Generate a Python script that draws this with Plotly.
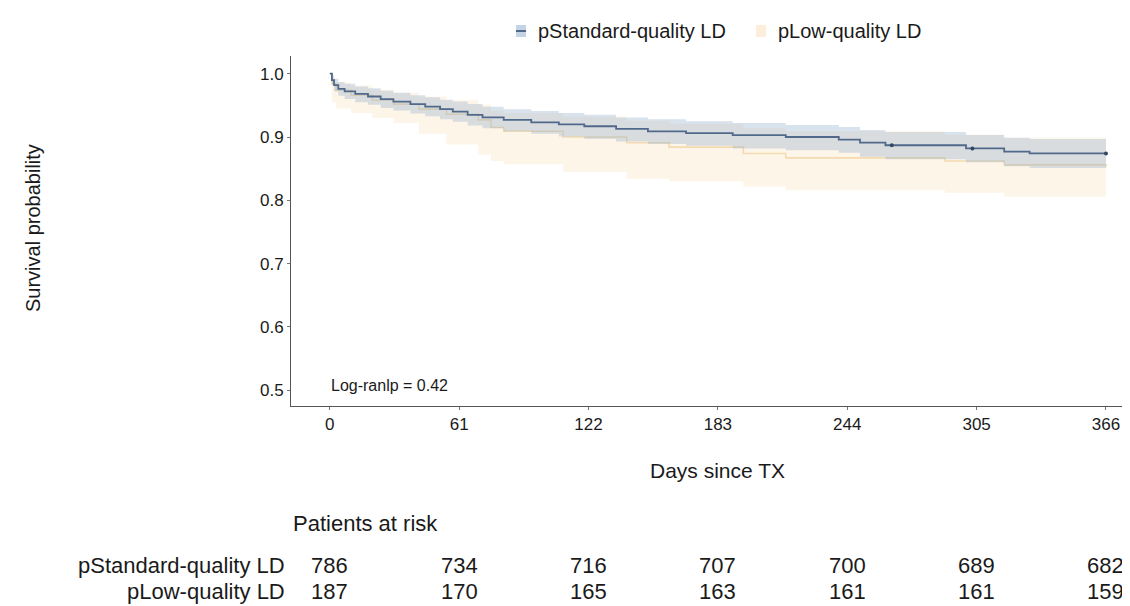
import plotly.graph_objects as go

# ---------------- data ----------------
group_names = ["pStandard-quality LD", "pLow-quality LD"]

days_std = [0, 1, 2, 4, 7, 12, 18, 24, 30, 38, 45, 52, 58, 65, 72, 82, 95, 108, 120, 135,
            150, 168, 190, 215, 240, 250, 262, 300, 318, 330, 366]
surv_std = [1.000, 0.990, 0.982, 0.976, 0.972, 0.968, 0.964, 0.960, 0.956, 0.952, 0.948,
            0.944, 0.940, 0.935, 0.931, 0.927, 0.923, 0.920, 0.917, 0.913, 0.909, 0.906,
            0.903, 0.900, 0.896, 0.891, 0.887, 0.882, 0.877, 0.874, 0.874]
upper_std = [1.000, 0.997, 0.992, 0.987, 0.984, 0.980, 0.977, 0.973, 0.970, 0.966, 0.963,
             0.959, 0.956, 0.952, 0.948, 0.944, 0.941, 0.938, 0.935, 0.931, 0.928, 0.925,
             0.922, 0.919, 0.916, 0.911, 0.908, 0.903, 0.899, 0.897, 0.897]
lower_std = [1.000, 0.983, 0.972, 0.965, 0.960, 0.955, 0.951, 0.946, 0.942, 0.937, 0.933,
             0.928, 0.924, 0.918, 0.914, 0.909, 0.905, 0.901, 0.897, 0.893, 0.889, 0.886,
             0.882, 0.879, 0.875, 0.869, 0.865, 0.860, 0.854, 0.851, 0.851]

days_low = [0, 1, 3, 10, 20, 30, 42, 55, 70, 76, 82, 110, 140, 160, 195, 215, 290, 318, 366]
surv_low = [1.000, 0.984, 0.974, 0.966, 0.958, 0.952, 0.944, 0.936, 0.927, 0.915, 0.909,
            0.900, 0.891, 0.884, 0.874, 0.867, 0.862, 0.856, 0.853]
upper_low = [1.000, 0.992, 0.986, 0.981, 0.975, 0.970, 0.964, 0.958, 0.951, 0.942, 0.938,
             0.932, 0.926, 0.921, 0.914, 0.909, 0.904, 0.899, 0.896]
lower_low = [1.000, 0.955, 0.945, 0.938, 0.930, 0.922, 0.905, 0.888, 0.872, 0.862, 0.857,
             0.845, 0.834, 0.830, 0.822, 0.816, 0.812, 0.806, 0.803]

censor_days_std = [265, 303, 366]
censor_surv_std = [0.887, 0.882, 0.874]

risk_days = [0, 61, 122, 183, 244, 305, 366]
risk_std = [786, 734, 716, 707, 700, 689, 682]
risk_low = [187, 170, 165, 163, 161, 161, 159]

y_ticks = [0.5, 0.6, 0.7, 0.8, 0.9, 1.0]
y_ticktext = ["0.5", "0.6", "0.7", "0.8", "0.9", "1.0"]

p_text = "Log-ranlp = 0.42"

# ---------------- styling / layout ----------------
W, H = 1130, 606
L, R, T, B = 283, 0, 48, 208
PW, PH = W - L - R, H - T - B
FONT = "Liberation Sans, Arial, Helvetica, sans-serif"
TXT = "#1a1a1a"

BLUE_LINE = "#50698a"
BLUE_FILL = "rgba(150,178,205,0.36)"
ORANGE_LINE = "#f0dab0"
ORANGE_FILL = "rgba(250,220,175,0.28)"


def px(xp):
    return (xp - L) / PW


def py(yp):
    return 1 - (yp - T) / PH


fig = go.Figure()

# orange curve (under its band)
fig.add_trace(go.Scatter(x=days_low, y=surv_low, mode="lines", line_shape="hv",
                         line=dict(color=ORANGE_LINE, width=1.6), showlegend=False,
                         name=group_names[1]))
# orange band
fig.add_trace(go.Scatter(x=days_low, y=lower_low, mode="lines", line_shape="hv",
                         line=dict(width=0), showlegend=False, hoverinfo="skip"))
fig.add_trace(go.Scatter(x=days_low, y=upper_low, mode="lines", line_shape="hv",
                         line=dict(width=0), fill="tonexty", fillcolor=ORANGE_FILL,
                         showlegend=False, hoverinfo="skip"))
# blue band
fig.add_trace(go.Scatter(x=days_std, y=lower_std, mode="lines", line_shape="hv",
                         line=dict(width=0), showlegend=False, hoverinfo="skip"))
fig.add_trace(go.Scatter(x=days_std, y=upper_std, mode="lines", line_shape="hv",
                         line=dict(width=0), fill="tonexty", fillcolor=BLUE_FILL,
                         showlegend=False, hoverinfo="skip"))
# blue curve
fig.add_trace(go.Scatter(x=days_std, y=surv_std, mode="lines", line_shape="hv",
                         line=dict(color=BLUE_LINE, width=1.8), showlegend=False,
                         name=group_names[0]))
fig.add_trace(go.Scatter(x=censor_days_std, y=censor_surv_std, mode="markers",
                         marker=dict(color="#34475f", size=4), showlegend=False,
                         hoverinfo="skip"))


def ann(text, x, y, size, xref="paper", yref="paper", xanchor="center", **kw):
    return dict(text=text, xref=xref, yref=yref, x=x, y=y, xanchor=xanchor,
                yanchor="middle", showarrow=False,
                font=dict(size=size, color=TXT, family=FONT), **kw)


annotations = []
# axis titles
annotations.append(ann("Survival probability", px(25), py(220), 20, textangle=-90))
annotations.append(ann("Days since TX", 183, py(462), 21, xref="x"))
# p-value
annotations.append(ann(p_text, -0.5, 0.508, 16, xref="x", yref="y", xanchor="left"))
# risk table
annotations.append(ann("Patients at risk", px(283), py(515), 22, xanchor="left"))
for name, vals, yp in [(group_names[0], risk_std, 557), (group_names[1], risk_low, 583)]:
    annotations.append(ann(name, px(279), py(yp), 22, xanchor="right"))
    for d, v in zip(risk_days, vals):
        annotations.append(ann(str(v), d, py(yp), 22, xref="x"))

# manual legend
shapes = []
legend_items = [(group_names[0], 508, "rgba(196,212,230,1)", BLUE_LINE),
                (group_names[1], 748, "rgba(252,238,218,1)", None)]
for name, sx, fillc, linec in legend_items:
    shapes.append(dict(type="rect", xref="paper", yref="paper", x0=px(sx), x1=px(sx + 10),
                       y0=py(29), y1=py(17), fillcolor=fillc, line=dict(width=0)))
    if linec:
        shapes.append(dict(type="line", xref="paper", yref="paper", x0=px(sx),
                           x1=px(sx + 10), y0=py(23), y1=py(23),
                           line=dict(color=linec, width=2)))
    annotations.append(ann(name, px(sx + 20), py(23), 20, xanchor="left"))

fig.update_layout(
    width=W, height=H,
    margin=dict(l=L, r=R, t=T, b=B),
    paper_bgcolor="white", plot_bgcolor="white",
    showlegend=False,
    annotations=annotations,
    shapes=shapes,
    font=dict(family=FONT, color=TXT),
)
fig.update_xaxes(range=[-18.3, 381.1], tickvals=risk_days,
                 ticktext=[str(d) for d in risk_days],
                 showline=True, linecolor="#555555", linewidth=1, ticks="outside",
                 ticklen=3, tickcolor="#777777", showgrid=False, zeroline=False,
                 tickfont=dict(size=17, color=TXT, family=FONT))
fig.update_yaxes(range=[0.475, 1.028], tickvals=y_ticks, ticktext=y_ticktext,
                 showline=True, linecolor="#555555", linewidth=1, ticks="outside",
                 ticklen=3, tickcolor="#777777", showgrid=False, zeroline=False,
                 tickfont=dict(size=17, color=TXT, family=FONT))

fig.write_html("out.html")
